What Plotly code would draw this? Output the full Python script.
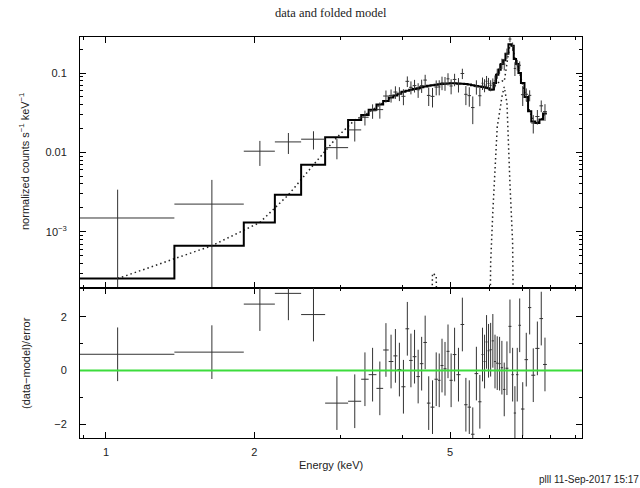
import plotly.graph_objects as go

# ---------------- data ----------------
# channel bin edges in keV (61 contiguous bins)
edges = [0.735, 1.377, 1.905, 2.203, 2.491, 2.787, 3.103, 3.299, 3.416, 3.543,
         3.656, 3.752, 3.835, 3.908, 3.981, 4.058, 4.129, 4.197, 4.271, 4.341,
         4.413, 4.486, 4.562, 4.648, 4.723, 4.781, 4.848, 4.917, 4.986, 5.062,
         5.150, 5.250, 5.341, 5.425, 5.514, 5.605, 5.703, 5.790, 5.847, 5.902,
         5.957, 6.013, 6.075, 6.138, 6.199, 6.268, 6.336, 6.405, 6.477, 6.569,
         6.662, 6.734, 6.807, 6.883, 6.965, 7.080, 7.200, 7.309, 7.447, 7.594,
         7.723, 7.862]

# folded total model per bin (normalized counts s^-1 keV^-1)
model = [2.57e-4, 6.67e-4, 1.31e-3, 2.92e-3, 6.97e-3, 0.0155, 0.0256, 0.0296, 0.0345, 0.040,
         0.0445, 0.049, 0.052, 0.055, 0.058, 0.060, 0.0615, 0.063, 0.0645, 0.066,
         0.0675, 0.069, 0.070, 0.0712, 0.072, 0.0728, 0.0735, 0.074, 0.0742, 0.0742,
         0.074, 0.0735, 0.0725, 0.0715, 0.070, 0.0688, 0.0675, 0.0665, 0.066, 0.065,
         0.0645, 0.0615, 0.062, 0.075, 0.095, 0.11, 0.13, 0.145, 0.175, 0.23,
         0.22, 0.15, 0.13, 0.10, 0.075, 0.05, 0.033, 0.0245, 0.0235, 0.026, 0.031]

# continuum model component per bin
cont = [2.57e-4, 6.67e-4, 1.31e-3, 2.92e-3, 6.97e-3, 0.0155, 0.0256, 0.0296, 0.0345, 0.040,
        0.0445, 0.049, 0.052, 0.055, 0.058, 0.060, 0.0615, 0.063, 0.0645, 0.066,
        0.0675, 0.069, 0.070, 0.0712, 0.072, 0.0728, 0.0735, 0.074, 0.0742, 0.0742,
        0.074, 0.0735, 0.0725, 0.0715, 0.070, 0.0688, 0.0675, 0.0665, 0.066, 0.065,
        0.0645, 0.0611, 0.0602, 0.069, 0.074, 0.078, 0.080, 0.078, 0.133, 0.226,
        0.219, 0.15, 0.13, 0.10, 0.075, 0.05, 0.033, 0.0245, 0.0235, 0.026, 0.031]

# narrow Fe line component (only non-zero near 6.4 keV)
gauss = [None] * 40 + [1e-6, 4e-4, 1.8e-3, 6e-3, 0.021, 0.032, 0.050, 0.067, 0.042, 0.004,
                       7.4e-4, 1e-6] + [None] * 9

# weak line component near 4.6 keV
bump = [None] * 21 + [1e-6, 3.0e-4, 2.8e-4, 1e-6] + [None] * 36

# observed data and 1-sigma errors
data = [1.49e-3, 2.23e-3, 0.01035, 0.01355, 0.01466, 0.01148, 0.0192, 0.0277, 0.0334, 0.0346,
        0.0513, 0.0522, 0.0576, 0.0553, 0.0509, 0.0786, 0.0661, 0.0694, 0.0615, 0.0693,
        0.0815, 0.0522, 0.0508, 0.0665, 0.0667, 0.0754, 0.0744, 0.0845, 0.0687, 0.0830,
        0.0716, 0.0986, 0.0539, 0.0519, 0.0367, 0.0672, 0.0517, 0.0744, 0.0704, 0.0788,
        0.0739, 0.0700, 0.0743, 0.0795, 0.0989, 0.1141, 0.1320, 0.1296, 0.1771, 0.268,
        0.2158, 0.1142, 0.1269, 0.1252, 0.0534, 0.0540, 0.0523, 0.0234, 0.0283, 0.0386, 0.0327]

err = [1.9e-3, 2.27e-3, 3.6e-3, 4.0e-3, 3.8e-3, 3.3e-3, 5.5e-3, 0.0059, 0.0069, 0.0080,
       0.0089, 0.0098, 0.0104, 0.0110, 0.0116, 0.0120, 0.0123, 0.0126, 0.0129, 0.0132,
       0.0135, 0.0138, 0.0140, 0.0142, 0.0144, 0.0146, 0.0147, 0.0148, 0.0148, 0.0148,
       0.0148, 0.0147, 0.0145, 0.0143, 0.0140, 0.0138, 0.0135, 0.0133, 0.0132, 0.0130,
       0.0129, 0.0111, 0.0112, 0.0135, 0.0143, 0.0165, 0.0195, 0.0218, 0.0263, 0.023,
       0.0264, 0.0225, 0.0195, 0.0150, 0.0150, 0.0100, 0.0083, 0.0061, 0.0059, 0.0065, 0.0078]

# residuals (data-model)/error, each with unit error
resid = [0.60, 0.68, 2.47, 2.87, 2.08, -1.22, -1.15, -0.33, -0.16, -0.67,
         0.76, 0.33, 0.54, 0.03, -0.61, 1.55, 0.37, 0.51, -0.23, 0.25,
         1.04, -1.22, -1.37, -0.33, -0.37, 0.18, 0.06, 0.71, -0.37, 0.59,
         -0.16, 1.71, -1.28, -1.37, -2.38, -0.12, -1.17, 0.59, 0.33, 1.06,
         0.73, 0.77, 1.10, 0.33, 0.27, 0.25, 0.10, -0.71, 0.08, 1.64,
         -0.16, -1.59, -0.16, 1.68, -1.44, 0.40, 2.34, -0.18, 0.82, 1.93, 0.22]
resid_err = [1.0] * 61

x_tickvals = [1, 2, 5]
x_ticktext = ["1", "2", "5"]
x_minor = [0.9, 3, 4, 6, 7, 8, 9]
y_tickvals = [1e-3, 0.01, 0.1]
y_ticktext = ["10<sup>\u22123</sup>", "0.01", "0.1"]
y_minor = [3e-4, 4e-4, 5e-4, 6e-4, 7e-4, 8e-4, 9e-4,
           2e-3, 3e-3, 4e-3, 5e-3, 6e-3, 7e-3, 8e-3, 9e-3,
           0.02, 0.03, 0.04, 0.05, 0.06, 0.07, 0.08, 0.09, 0.2]
r_tickvals = [-2, 0, 2]
r_minor = [-1, 1]

# ---------------- layout geometry ----------------
W, H = 640, 488
ML, MR, MT, MB = 80, 58, 37, 50
PW, PH = W - ML - MR, H - MT - MB


def fx(px):
    return (px - ML) / PW


def fy(py):
    return (H - MB - py) / PH


split = fy(288)

lo = edges[:-1]
hi = edges[1:]
cen = [(a + b) / 2 for a, b in zip(lo, hi)]
ex_p = [h - c for h, c in zip(hi, cen)]
ex_m = [c - l for c, l in zip(cen, lo)]

INK = "#222222"
BAR = "#333333"
FONT = "Liberation Sans, Arial, sans-serif"

fig = go.Figure()

for comp in (cont, gauss, bump):
    fig.add_trace(go.Scatter(x=cen, y=comp, mode="lines", xaxis="x", yaxis="y",
                             line=dict(color=INK, width=1.5, dash="1.5px,3px"),
                             hoverinfo="skip"))

fig.add_trace(go.Scatter(x=lo + [hi[-1]], y=model + [model[-1]], mode="lines",
                         xaxis="x", yaxis="y",
                         line=dict(color="black", width=2, shape="hv")))

fig.add_trace(go.Scatter(x=cen, y=data, mode="markers", xaxis="x", yaxis="y",
                         marker=dict(size=2, color=BAR, opacity=0),
                         error_x=dict(type="data", symmetric=False, array=ex_p,
                                      arrayminus=ex_m, width=0, thickness=1, color=BAR),
                         error_y=dict(type="data", array=err, width=0,
                                      thickness=1, color=BAR)))

fig.add_trace(go.Scatter(x=cen, y=resid, mode="markers", xaxis="x2", yaxis="y2",
                         marker=dict(size=2, color=BAR, opacity=0),
                         error_x=dict(type="data", symmetric=False, array=ex_p,
                                      arrayminus=ex_m, width=0, thickness=1, color=BAR),
                         error_y=dict(type="data", array=resid_err, width=0,
                                      thickness=1, color=BAR)))

axis_common = dict(showline=True, linecolor="black", linewidth=1, mirror="ticks",
                   ticks="inside", ticklen=6, tickcolor="black", tickwidth=1,
                   showgrid=False, zeroline=False,
                   tickfont=dict(family=FONT, size=11, color=INK))

fig.update_layout(
    width=W, height=H,
    margin=dict(l=ML, r=MR, t=MT, b=MB),
    paper_bgcolor="white", plot_bgcolor="white",
    showlegend=False,
    xaxis=dict(axis_common, type="log", range=[-0.0528, 0.9669], anchor="y",
               tickmode="array", tickvals=x_tickvals, ticktext=x_ticktext,
               showticklabels=False,
               minor=dict(tickmode="array", tickvals=x_minor, ticks="inside",
                          ticklen=3, tickcolor="black", showgrid=False)),
    xaxis2=dict(axis_common, type="log", range=[-0.0528, 0.9669], anchor="y2",
                matches="x", tickmode="array", tickvals=x_tickvals,
                ticktext=x_ticktext, ticklabelstandoff=4,
                minor=dict(tickmode="array", tickvals=x_minor, ticks="inside",
                           ticklen=3, tickcolor="black", showgrid=False)),
    yaxis=dict(axis_common, type="log", range=[-3.709, -0.546], domain=[split, 1],
               anchor="x", tickmode="array", tickvals=y_tickvals,
               ticktext=y_ticktext, ticklabelstandoff=10,
               minor=dict(tickmode="array", tickvals=y_minor, ticks="inside",
                          ticklen=3, tickcolor="black", showgrid=False)),
    yaxis2=dict(axis_common, range=[-2.52, 3.07], domain=[0, split], anchor="x2",
                tickmode="array", tickvals=r_tickvals, ticklabelstandoff=10,
                minor=dict(tickmode="array", tickvals=r_minor, ticks="inside",
                           ticklen=3, tickcolor="black", showgrid=False)),
    shapes=[dict(type="line", xref="paper", x0=0, x1=1, yref="y2", y0=0, y1=0,
                 line=dict(color="#3cdc3c", width=2), layer="above")],
)

ann = [
    dict(text="data and folded model", x=fx(331), y=fy(13),
         font=dict(family="Liberation Serif, Times New Roman, serif", size=12.5, color=INK)),
    dict(text="normalized counts s<sup>\u22121</sup> keV<sup>\u22121</sup>",
         x=fx(24), y=fy(162), textangle=-90,
         font=dict(family=FONT, size=11, color=INK)),
    dict(text="(data\u2212model)/error", x=fx(26), y=fy(363), textangle=-90,
         font=dict(family=FONT, size=11, color=INK)),
    dict(text="Energy (keV)", x=fx(331), y=fy(465),
         font=dict(family=FONT, size=11, color=INK)),
]
for a in ann:
    a.update(xref="paper", yref="paper", showarrow=False, xanchor="center",
             yanchor="middle")
    fig.add_annotation(**a)

fig.add_annotation(text="plll 11-Sep-2017 15:17", xref="paper", yref="paper",
                   x=fx(537), y=fy(479), xanchor="left", yanchor="middle",
                   showarrow=False, font=dict(family=FONT, size=10, color=INK))

fig.write_html("out.html")
